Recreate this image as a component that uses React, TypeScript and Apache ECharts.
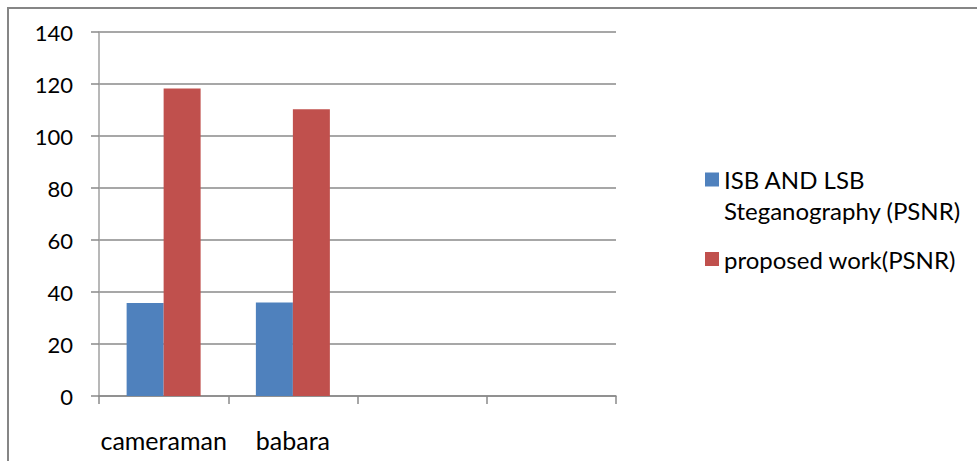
import React, { useEffect, useRef } from "react";
import * as echarts from "echarts";

const categories = ["cameraman", "babara", "", ""];
const seriesNames = ["ISB AND LSB\nSteganography (PSNR)", "proposed work(PSNR)"];
const isbLsbPsnr = [35.8, 36.0, null, null];
const proposedPsnr = [118.3, 110.3, null, null];
const yMin = 0;
const yMax = 140;
const yInterval = 20;

const FONT = "Lato";
const GRID_COLOR = "#8a8a8a";

export default function App() {
  const ref = useRef<HTMLDivElement>(null);
  useEffect(() => {
    if (!ref.current) return;
    const chart = echarts.init(ref.current, null, { renderer: "svg" });
    chart.setOption({
      animation: false,
      backgroundColor: "#ffffff",
      textStyle: { fontFamily: FONT },
      grid: { left: 99, right: 361, top: 32, bottom: 65, containLabel: false },
      graphic: [
        {
          type: "polyline",
          shape: { points: [[8, 470], [8, 8], [990, 8]] },
          style: { stroke: "#868686", lineWidth: 2, fill: "none" },
          silent: true,
        },
      ],
      legend: [
        {
          orient: "vertical",
          left: 700,
          top: 159,
          itemWidth: 14,
          itemHeight: 45,
          itemGap: 0,
          data: [{ name: seriesNames[0], icon: "path://M0,0H14V14H0Z M0,45 L0,45" }],
          textStyle: { fontFamily: FONT, fontSize: 24, color: "#000", lineHeight: 31 },
          selectedMode: false,
        },
        {
          orient: "vertical",
          left: 700,
          top: 238.5,
          itemWidth: 14,
          itemHeight: 14,
          data: [{ name: seriesNames[1], icon: "rect" }],
          textStyle: { fontFamily: FONT, fontSize: 24, color: "#000", lineHeight: 31 },
          selectedMode: false,
        },
      ],
      xAxis: {
        type: "category",
        data: categories,
        boundaryGap: true,
        axisLine: { show: true, lineStyle: { color: GRID_COLOR, width: 1.5 } },
        axisTick: { show: true, length: 8, inside: false, lineStyle: { color: GRID_COLOR, width: 1.5 } },
        axisLabel: { color: "#000", fontFamily: FONT, fontSize: 25, margin: 31, interval: 0 },
        splitLine: { show: false },
      },
      yAxis: {
        type: "value",
        min: yMin,
        max: yMax,
        interval: yInterval,
        axisLine: { show: true, lineStyle: { color: "#a0a0a0", width: 1.5 } },
        axisTick: { show: true, length: 8, inside: false, lineStyle: { color: GRID_COLOR, width: 1.5 } },
        axisLabel: { color: "#000", fontFamily: FONT, fontSize: 22, margin: 26 },
        splitLine: { show: true, lineStyle: { color: GRID_COLOR, width: 1.5 } },
      },
      series: [
        {
          name: seriesNames[0],
          type: "bar",
          data: isbLsbPsnr,
          barWidth: 37,
          barGap: "0%",
          itemStyle: { color: "#4F81BD" },
        },
        {
          name: seriesNames[1],
          type: "bar",
          data: proposedPsnr,
          barWidth: 37,
          barGap: "0%",
          itemStyle: { color: "#C0504D" },
        },
      ],
    });
    return () => chart.dispose();
  }, []);
  return (
    <div
      ref={ref}
      style={{ position: "absolute", left: 0, top: 0, width: 977, height: 461 }}
    />
  );
}
